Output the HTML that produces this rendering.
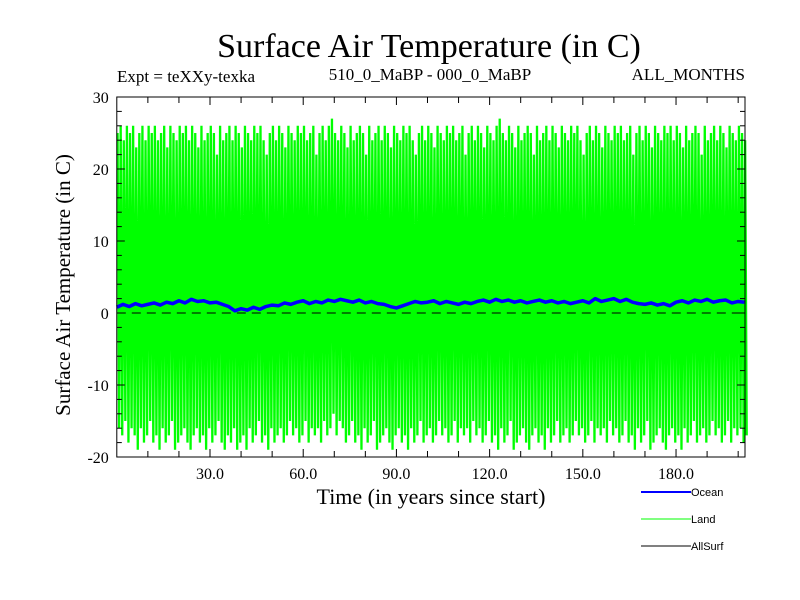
<!DOCTYPE html>
<html><head><meta charset="utf-8"><style>
body{margin:0;background:#fff;width:800px;height:600px;overflow:hidden}
svg{display:block}
text{font-family:"Liberation Serif",serif}
</style></head><body>
<svg id="chart" width="800" height="600">
<text x="429" y="57" font-size="34" text-anchor="middle">Surface Air Temperature (in C)</text>
<text x="117" y="82" font-size="17">Expt = teXXy-texka</text>
<text x="430" y="80" font-size="17" text-anchor="middle">510_0_MaBP - 000_0_MaBP</text>
<text x="745" y="80" font-size="17" text-anchor="end">ALL_MONTHS</text>
<g id="plot"></g>
<g id="axes"></g>
<text transform="translate(70,285) rotate(-90)" font-size="21" text-anchor="middle">Surface Air Temperature (in C)</text>
<text x="431" y="504" font-size="22" text-anchor="middle">Time (in years since start)</text>
<g>
<g><line x1="641" y1="492" x2="691" y2="492" stroke="#0000ff" stroke-width="2"/><text x="691" y="496" style="font-family:'Liberation Sans',sans-serif;font-size:11px">Ocean</text></g>
<g><line x1="641" y1="519" x2="691" y2="519" stroke="#00ff00" stroke-width="1"/><text x="691" y="523" style="font-family:'Liberation Sans',sans-serif;font-size:11px">Land</text></g>
<g><line x1="641" y1="546" x2="691" y2="546" stroke="#000" stroke-width="1"/><text x="691" y="550" style="font-family:'Liberation Sans',sans-serif;font-size:11px">AllSurf</text></g>
</g>
</svg>
<script>
const landPeaks=[25,26,24,26,25,26,23,25,26,24,26,25,26,24,25,26,23,26,25,24,26,25,26,24,26,25,23,26,24,25,26,25,22,26,24,25,26,24,26,25,23,26,25,24,26,25,26,24,22,25,26,24,26,25,23,26,25,24,26,25,26,24,25,26,22,25,26,24,26,27,25,24,26,25,23,26,24,25,26,25,22,26,24,25,26,24,26,25,23,26,25,24,26,25,26,24,22,25,26,24,26,25,23,26,25,24,26,25,26,24,25,26,22,25,26,24,26,25,23,26,25,24,26,27,25,24,26,25,23,26,24,25,26,25,22,26,24,25,26,24,26,25,23,26,25,24,26,25,26,24,22,25,26,24,26,25,23,26,25,24,26,25,26,24,25,26,22,25,26,24,26,25,23,26,25,24,26,25,26,24,26,25,23,26,24,25,26,25,22,26,24,25,26,24,26,25,23,26,25,24,26,25,24];
const landTroughs=[-16,-17,-15,-18,-16,-17,-19,-16,-18,-17,-15,-18,-17,-19,-16,-18,-17,-15,-19,-18,-17,-16,-18,-19,-17,-16,-18,-17,-19,-16,-18,-17,-15,-18,-19,-17,-18,-16,-19,-18,-17,-19,-16,-18,-17,-15,-18,-17,-19,-16,-18,-17,-16,-18,-17,-15,-17,-16,-18,-17,-15,-18,-16,-17,-16,-18,-15,-17,-16,-14,-17,-15,-16,-18,-17,-15,-18,-17,-19,-16,-18,-17,-15,-19,-18,-17,-16,-18,-19,-17,-16,-18,-17,-19,-16,-18,-17,-15,-18,-17,-16,-18,-17,-15,-17,-16,-18,-17,-15,-18,-16,-17,-16,-18,-15,-17,-16,-18,-17,-15,-18,-17,-19,-16,-18,-17,-15,-19,-18,-17,-16,-18,-19,-17,-16,-18,-17,-19,-16,-18,-17,-15,-18,-17,-16,-18,-17,-15,-17,-16,-18,-17,-15,-18,-16,-17,-16,-18,-15,-17,-16,-18,-17,-15,-18,-17,-19,-16,-18,-17,-15,-19,-18,-17,-16,-18,-19,-17,-16,-18,-17,-19,-16,-18,-17,-15,-18,-17,-16,-18,-17,-15,-17,-16,-18,-17,-15,-18,-16,-17,-16,-18,-17,-16];
const oceanYears=[0,2,4,6,8,10,12,14,16,18,20,22,24,26,28,30,32,34,36,38,40,42,44,46,48,50,52,54,56,58,60,62,64,66,68,70,72,74,76,78,80,82,84,86,88,90,92,94,96,98,100,102,104,106,108,110,112,114,116,118,120,122,124,126,128,130,132,134,136,138,140,142,144,146,148,150,152,154,156,158,160,162,164,166,168,170,172,174,176,178,180,182,184,186,188,190,192,194,196,198,200,202];
const oceanVals=[0.8,1.2,0.9,1.3,1.0,1.2,1.4,1.1,1.5,1.3,1.7,1.4,1.9,1.6,1.7,1.4,1.5,1.2,0.9,0.3,0.6,0.4,0.8,0.5,0.9,1.1,1.0,1.4,1.2,1.5,1.7,1.3,1.6,1.4,1.8,1.6,1.9,1.7,1.5,1.8,1.4,1.6,1.3,1.2,0.9,0.7,1.0,1.3,1.6,1.4,1.5,1.7,1.3,1.6,1.4,1.2,1.5,1.3,1.6,1.8,1.5,1.9,1.6,1.8,1.5,1.7,1.4,1.6,1.8,1.5,1.7,1.4,1.6,1.3,1.5,1.7,1.4,2.0,1.6,1.8,2.0,1.6,1.9,1.5,1.3,1.2,1.4,1.1,1.3,1.0,1.5,1.7,1.4,1.8,1.6,1.9,1.5,1.7,1.8,1.4,1.6,1.5];
const xTicks=[30,60,90,120,150,180];
const yTicks=[-20,-10,0,10,20,30];
const X0=116.8,X1=745,Y0=97,Y1=457,XMAX=202.2;
const xs=v=>X0+(v/XMAX)*(X1-X0);
const ys=v=>Y1-(v+20)/50*(Y1-Y0);
const NS="http://www.w3.org/2000/svg";
function mk(t,a,p){const e=document.createElementNS(NS,t);for(const k in a)e.setAttribute(k,a[k]);p.appendChild(e);return e;}
const plot=document.getElementById('plot'),axes=document.getElementById('axes');
let d="";
for(let i=0;i<landPeaks.length;i++){
  d+=(i?"L":"M")+xs(i+0.25).toFixed(2)+","+ys(landPeaks[i]).toFixed(2);
  d+="L"+xs(i+0.75).toFixed(2)+","+ys(landTroughs[i]).toFixed(2);
}
const land=mk('path',{d:d,fill:'none',stroke:'#00ff00','stroke-width':2.3},plot);


const zl=mk('line',{x1:X0,x2:X1,y1:ys(0),y2:ys(0),stroke:'#000','stroke-dasharray':'9,6','stroke-width':1},plot);


let od="";
oceanYears.forEach((y,i)=>{od+=(i?"L":"M")+xs(y).toFixed(2)+","+ys(oceanVals[i]).toFixed(2);});
const oc=mk('path',{d:od,fill:'none',stroke:'#0000ff','stroke-width':3.5,'stroke-linejoin':'round'},plot);


const fr=mk('rect',{x:X0,y:Y0,width:X1-X0,height:Y1-Y0,fill:'none',stroke:'#000','stroke-width':1},axes);


for(let v=10;v<XMAX;v+=10){
  const len=v%30===0?8:6;
  mk('line',{x1:xs(v),x2:xs(v),y1:Y1,y2:Y1-len,stroke:'#000'},axes);
  mk('line',{x1:xs(v),x2:xs(v),y1:Y0,y2:Y0+len,stroke:'#000'},axes);
}
for(let v=-18;v<30;v+=2){
  const len=v%10===0?8:5;
  mk('line',{x1:X0,x2:X0+len,y1:ys(v),y2:ys(v),stroke:'#000'},axes);
  mk('line',{x1:X1,x2:X1-len,y1:ys(v),y2:ys(v),stroke:'#000'},axes);
}
xTicks.forEach(v=>{
  const t=mk('text',{x:xs(v),y:Y1+22,'font-size':16,'text-anchor':'middle'},axes);
  t.textContent=v.toFixed(1);
  
  
});
yTicks.forEach(v=>{
  const t=mk('text',{x:X0-8,y:ys(v)+6,'font-size':16,'text-anchor':'end'},axes);
  t.textContent=v;
  
  
});
</script>
</body></html>
